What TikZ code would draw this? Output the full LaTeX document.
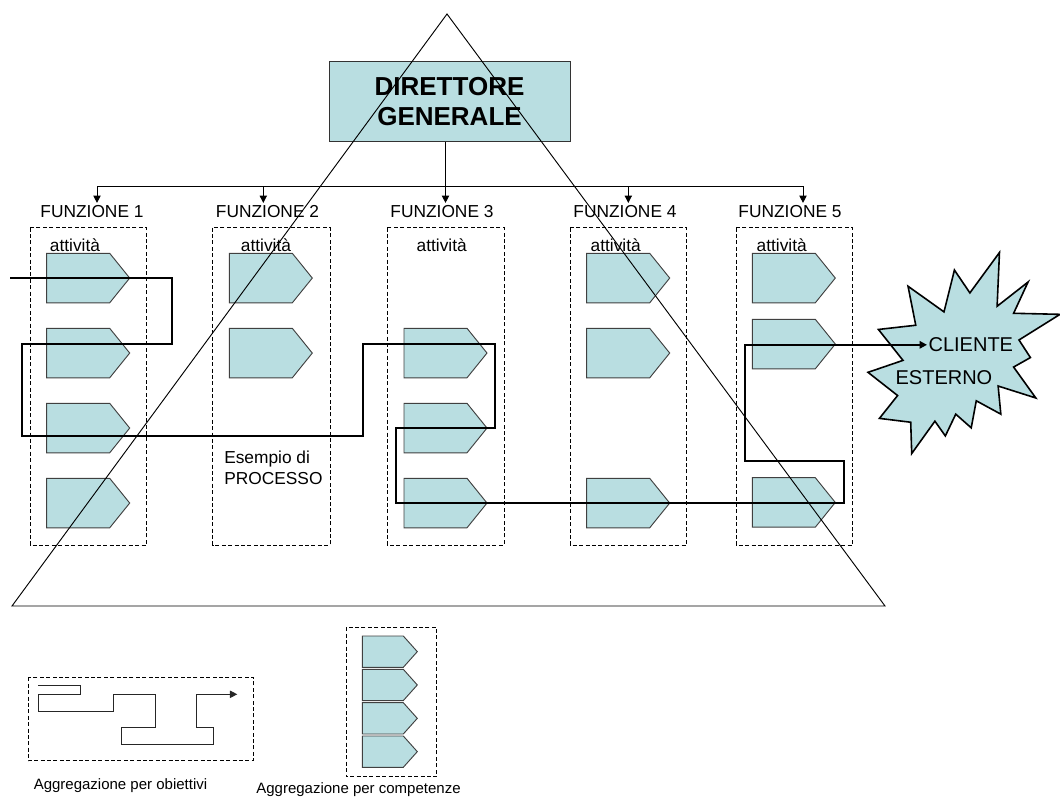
\documentclass[tikz,border=0pt]{standalone}
\usepackage{fontspec}
\setmainfont{Liberation Sans}
\usetikzlibrary{arrows.meta}
\definecolor{actfill}{RGB}{185,222,225}
\begin{document}
\begin{tikzpicture}[x=0.75pt,y=-0.75pt,
  actbox/.style={draw=black!75,fill=actfill,line width=0.7pt,line join=miter},
  dashbox/.style={draw=black,dash pattern=on 3pt off 1.8pt,line width=0.6pt},
  thinline/.style={line width=0.7pt},
  arr/.style={-{Triangle[width=5.5pt,length=5.5pt]}},
  proc/.style={line width=1.7pt,line join=miter},
  funlbl/.style={font=\fontsize{13}{15.6}\selectfont,inner sep=1.5pt,anchor=base},
  pics/act/.style n args={3}{code={\draw[actbox] (0,0) -- ({#1-#3},0) -- (#1,{#2/2}) -- ({#1-#3},#2) -- (0,#2) -- cycle;}}
]
\useasboundingbox (0,0) rectangle (1060,802);

% dashed function containers
\draw[dashbox] (30,227.7) rectangle (146.7,545);
\draw[dashbox] (212.7,227.7) rectangle (330,545);
\draw[dashbox] (387.3,227.7) rectangle (504,545);
\draw[dashbox] (570,227.7) rectangle (686.7,545);
\draw[dashbox] (736,227.7) rectangle (852.7,545);

% activities
\foreach \t in {253.3,328.3,403.3,478.3} \pic at (46.7,\t) {act={83}{49.5}{20}};
\foreach \t in {253.3,328.3} \pic at (229.3,\t) {act={83}{49.5}{20}};
\foreach \t in {328.3,403.3,478.3} \pic at (404,\t) {act={83}{49.5}{20}};
\foreach \t in {253.3,328.3,478.3} \pic at (586.7,\t) {act={83}{49.5}{20}};
\foreach \t in {253.3,319.3,477.7} \pic at (752.3,\t) {act={83}{49.5}{20}};

% labels
\node[funlbl] (f1) at (92,217.3) {FUNZIONE 1};
\node[funlbl] (f2) at (267.5,217.3) {FUNZIONE 2};
\node[funlbl] (f3) at (442,217.3) {FUNZIONE 3};
\node[funlbl] (f4) at (625,217.3) {FUNZIONE 4};
\node[funlbl] (f5) at (790,217.3) {FUNZIONE 5};
\node[funlbl] (a1) at (75,251.5) {attività};
\node[funlbl] (a2) at (266,251.5) {attività};
\node[funlbl] (a3) at (441.7,251.5) {attività};
\node[funlbl] (a4) at (615.7,251.5) {attività};
\node[funlbl] (a5) at (781.7,251.5) {attività};
\node[font=\fontsize{13}{15.75}\selectfont,align=left,anchor=base west,inner sep=0] (es) at (224,484) {Esempio di\\PROCESSO};

% cliente esterno
\begin{scope}[shift={(868,252.5)},xscale=0.8889,yscale=0.9306]
\draw[fill=actfill,line width=1.2pt,line join=miter]
 (114.62,43.42) -- (147.90,0) -- (145.25,57.77) -- (180.07,31.72) -- (163.80,65.32)
 -- (216,66.45) -- (169.85,94.02) -- (182.70,112.90) -- (163.80,123.10) -- (188.77,156.32)
 -- (146.40,143.50) -- (149.42,173.70) -- (121.80,159.35) -- (116.12,188.42) -- (98.72,173.70)
 -- (87.00,197.12) -- (75.27,181.25) -- (49.17,216) -- (48.05,182.40) -- (12.85,178.25)
 -- (33.30,153.70) -- (0,128.77) -- (39.35,115.92) -- (11.72,82.70) -- (53.72,78.17)
 -- (45.02,36.25) -- (85.50,63.82) -- (97.22,18.87) -- cycle;
\end{scope}
\node[font=\fontsize{15}{18}\selectfont,inner sep=1pt,anchor=base west] (cli) at (927,351.7) {CLIENTE};
\node[font=\fontsize{15}{18}\selectfont,inner sep=1pt,anchor=base west] (est) at (894,384) {ESTERNO};

% process path
\coordinate (p0) at (10,277.7);
\coordinate (turn) at (745,0);
\draw[proc,arr] (p0) -- (171.7,277.7) -- (171.7,344) -- (21.7,344) -- (21.7,436)
  -- (362.7,436) -- (362.7,344.3) -- (495,344.3) -- (495,427.7) -- (395.7,427.7)
  -- (395.7,502.7) -- (844,502.7) -- (844,461) -- (745,461) -- (cli.west -| turn) -- (cli.west);

% director
\node[draw=black!80,fill=actfill,line width=0.7pt,minimum width=180.75pt,minimum height=60.4pt,
  inner sep=0,align=center,font=\bfseries\fontsize{19.5}{22.5}\selectfont] (dg) at (449.5,101.7) {DIRETTORE\\GENERALE};

% bus
\coordinate (b1) at (97,186.3);
\coordinate (b2) at (263.3,186.3);
\coordinate (b3) at (445.5,186.3);
\coordinate (b4) at (628.3,186.3);
\coordinate (b5) at (803,186.3);
\draw[thinline] (dg.south -| b3) -- (b3);
\draw[thinline] (b1) -- (b5);
\foreach \i in {1,...,5} \draw[thinline,arr] (b\i) -- (b\i |- f\i.north);

% pyramid
\draw[thinline] (447,14) -- (12,606) -- (885,606) -- cycle;

% legend 1
\draw[dashbox] (28,677.3) rectangle (253.3,760.7);
\coordinate (l0) at (38.3,685.7);
\coordinate (l1) at (237.3,694.3);
\draw[thinline,draw=black!85,arr] (l0) -- (80,685.7) -- (80,694) -- (38.3,694) -- (38.3,711)
  -- (113.3,711) -- (113.3,694.3) -- (155,694.3) -- (155,727.7) -- (121.7,727.7)
  -- (121.7,744) -- (213.3,744) -- (213.3,727.7) -- (196,727.7) -- (196,694.3) -- (l1);
\node[font=\fontsize{11.25}{13.5}\selectfont,anchor=base,inner sep=0] (lab1) at (120.5,789) {Aggregazione per obiettivi};

% legend 2
\draw[dashbox] (346,627.3) rectangle (436.7,776.7);
\foreach \t in {636,669.3,702.7,736} \pic at (362.3,\t) {act={55}{31.3}{14}};
\node[font=\fontsize{11.25}{13.5}\selectfont,anchor=base,inner sep=0] (lab2) at (358.5,793) {Aggregazione per competenze};
\end{tikzpicture}
\end{document}
